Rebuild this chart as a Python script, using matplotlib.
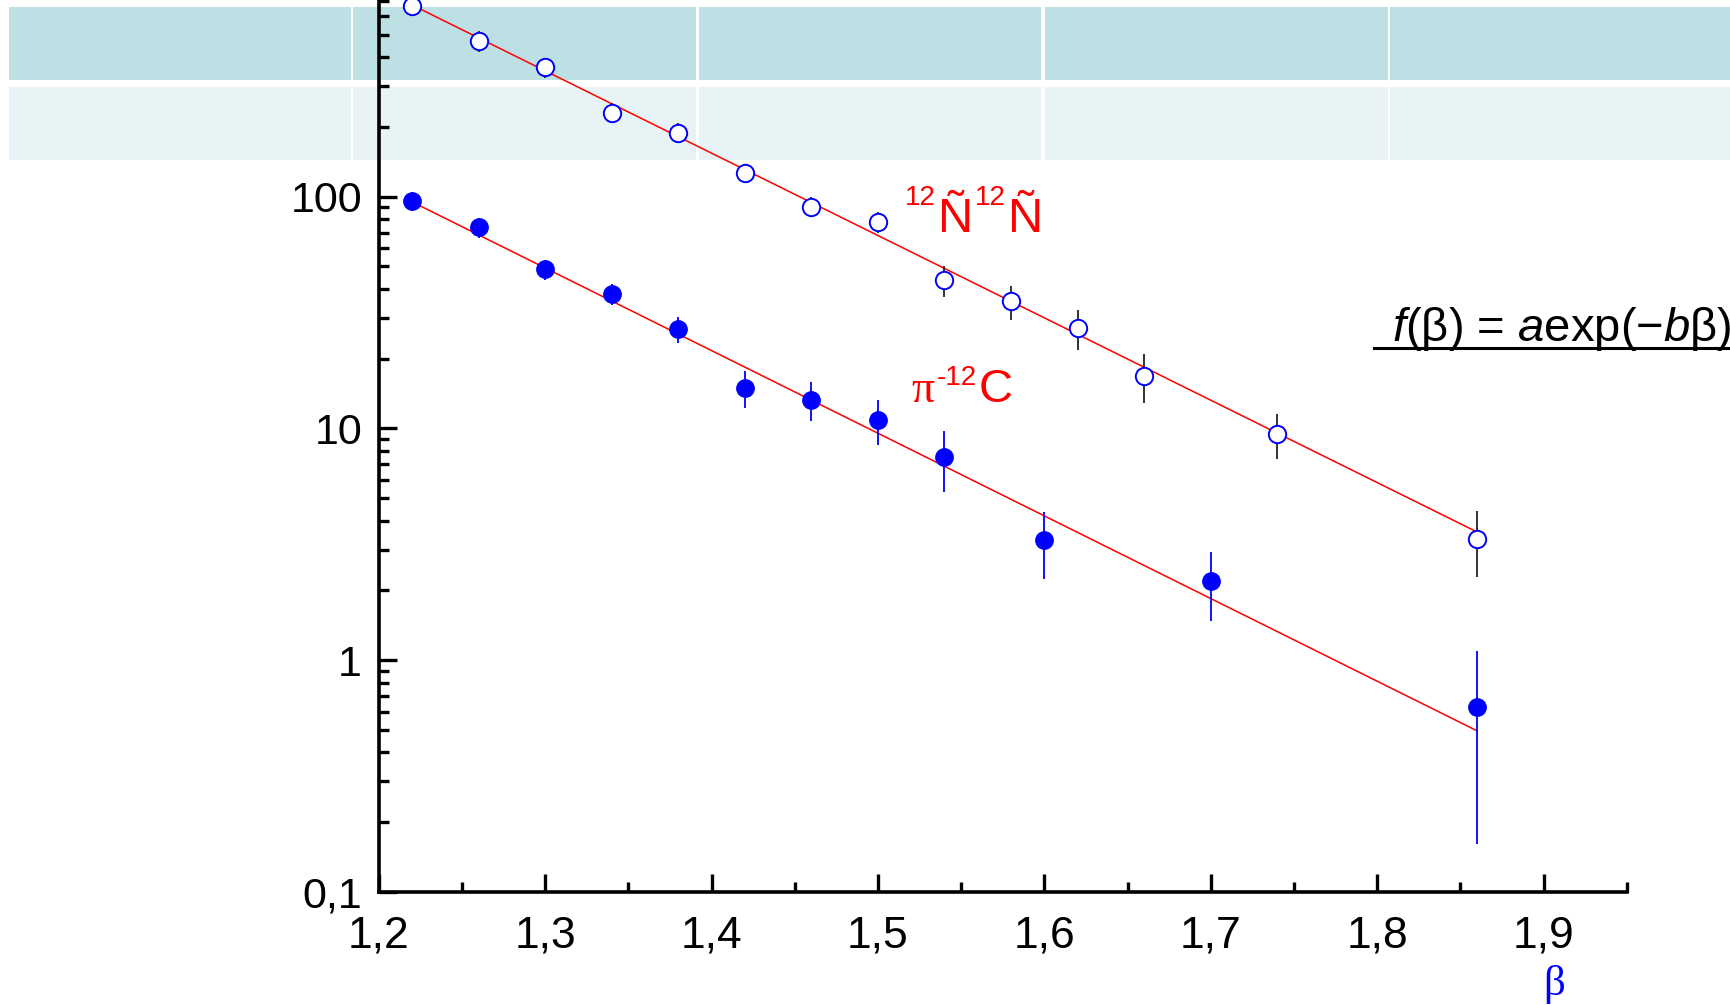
import numpy as np
import matplotlib
matplotlib.use("Agg")
import matplotlib.pyplot as plt
from matplotlib.patches import Rectangle
from matplotlib.lines import Line2D
from matplotlib.ticker import FixedLocator, NullFormatter

plt.rcParams['font.family'] = ['Liberation Sans', 'DejaVu Sans']
plt.rcParams['mathtext.fontset'] = 'custom'
plt.rcParams['mathtext.rm'] = 'Liberation Sans'
plt.rcParams['mathtext.it'] = 'Liberation Sans:italic'

# open circles, 12N12N
beta_nn = [1.22, 1.26, 1.30, 1.34, 1.38, 1.42, 1.46, 1.50, 1.54, 1.58, 1.62, 1.66, 1.74, 1.86]
f_nn = [666, 469, 361, 230, 189, 126, 90.6, 77.7, 43.5, 35.3, 27.1, 16.9, 9.47, 3.34]
err_nn = [65, 47, 36, 23, 19, 12, 9, 8, 6.5, 6, 5.3, 4, 2.1, 1.05]

# filled circles, pi- 12C
beta_pc = [1.22, 1.26, 1.30, 1.34, 1.38, 1.42, 1.46, 1.50, 1.54, 1.60, 1.70, 1.86]
f_pc = [95.7, 73.6, 48.5, 38.1, 26.8, 15.0, 13.3, 10.9, 7.52, 3.30, 2.20, 0.631]
err_pc = [9, 7, 5, 4, 3.5, 2.7, 2.5, 2.4, 2.2, 1.05, 0.73, 0.47]

# fit f = a*exp(-b*beta)
fit_nn = (1.449e7, 8.18)
fit_pc = (2.126e6, 8.21)
fit_range = (1.22, 1.86)

xticks = [1.2, 1.3, 1.4, 1.5, 1.6, 1.7, 1.8, 1.9]
xlabels = ['1,2', '1,3', '1,4', '1,5', '1,6', '1,7', '1,8', '1,9']
yticks = [0.1, 1, 10, 100]
ylabels = ['0,1', '1', '10', '100']

W, H = 1731, 1005
fig = plt.figure(figsize=(W / 100, H / 100), dpi=100)

# table band behind the plot
col_edges = [8.8, 352, 698, 1043, 1389, 1735]
rows = [(7.5, 80, '#bce0e3'), (87, 160, '#e7f3f4')]
gap = 3
for y0, y1, c in rows:
    for i in range(len(col_edges) - 1):
        x0 = col_edges[i] + (gap / 2 if i > 0 else 0)
        x1 = col_edges[i + 1] - gap / 2
        fig.add_artist(Rectangle((x0 / W, 1 - y1 / H), (x1 - x0) / W, (y1 - y0) / H,
                                 facecolor=c, edgecolor='none', zorder=0))

ax = fig.add_axes([378.7 / W, 1 - 892 / H, (1626.7 - 378.7) / W, 892 / H])
ax.set_zorder(1)
ax.patch.set_alpha(0)
ax.set_yscale('log')
ax.set_xlim(1.2, 1.95)
ax.set_ylim(0.1, 705)

xf = np.linspace(fit_range[0], fit_range[1], 200)
for a, b in (fit_nn, fit_pc):
    ax.plot(xf, a * np.exp(-b * xf), color='#ff0000', lw=1.1, zorder=2)

ax.errorbar(beta_nn, f_nn, yerr=err_nn, fmt='none', ecolor='#222222', elinewidth=1.3, capsize=0, zorder=3)
ax.errorbar(beta_pc, f_pc, yerr=err_pc, fmt='none', ecolor='#0000ff', elinewidth=1.3, capsize=0, zorder=3)
ax.plot(beta_nn, f_nn, 'o', ms=12.5, mfc='white', mec='#0000ff', mew=1.4, zorder=4, clip_on=False)
ax.plot(beta_pc, f_pc, 'o', ms=12.5, mfc='#0000ff', mec='#0000ff', zorder=4)

for s in ('top', 'right'):
    ax.spines[s].set_visible(False)
for s in ('left', 'bottom'):
    ax.spines[s].set_linewidth(2.6)

ax.xaxis.set_major_locator(FixedLocator(xticks))
ax.set_xticklabels(xlabels)
ax.xaxis.set_minor_locator(FixedLocator([1.25, 1.35, 1.45, 1.55, 1.65, 1.75, 1.85, 1.95]))
ax.yaxis.set_major_locator(FixedLocator(yticks))
ax.set_yticklabels(ylabels)
ymin = [m * d for d in (0.1, 1, 10, 100) for m in range(2, 10)]
ax.yaxis.set_minor_locator(FixedLocator(ymin))
ax.yaxis.set_minor_formatter(NullFormatter())
ax.tick_params(which='both', direction='in', width=2.4, colors='black')
ax.tick_params(which='major', length=13)
ax.tick_params(which='minor', length=7)
ax.tick_params(axis='y', which='major', pad=12, labelsize=31)
ax.tick_params(axis='x', which='major', pad=17, labelsize=32)


def chain(x, y, parts, color):
    # parts: (text, size, rise in points, family)
    prev = None
    for s, size, rise, fam in parts:
        if prev is None:
            xy, xyc = (x, y), 'data'
        else:
            xy, xyc = (1, y), (prev, 'data')
        prev = ax.annotate(s, xy=xy, xycoords=xyc, xytext=(1.5 if prev is not None else 0, rise),
                           textcoords='offset points', color=color, fontsize=size,
                           family=fam, va='baseline', ha='left')


sans = 'Liberation Sans'
chain(1.5163, 70.2, [('12', 20, 19.4, sans), ('Ñ', 35, 0, sans),
                     ('12', 20, 19.4, sans), ('Ñ', 35, 0, sans)], '#ff0000')
chain(1.5203, 13.0, [('π', 33, 0, 'Liberation Serif'), ('-12', 20, 12, sans),
                     ('C', 34, 0, sans)], '#ff0000')

fig.text(1391.7 / W, 1 - 341 / H, r'$f$(β) = $a$exp(−$b$β)', fontsize=34, va='baseline', ha='left')
fig.add_artist(Line2D([1374 / W, 1.0], [1 - 347.7 / H] * 2, color='black', lw=2.2))
fig.text(1543 / W, 1 - 995 / H, 'β', color='#0000ff', fontsize=31, family='Liberation Serif',
         va='baseline', ha='left')

fig.savefig('out.png', dpi=100)
